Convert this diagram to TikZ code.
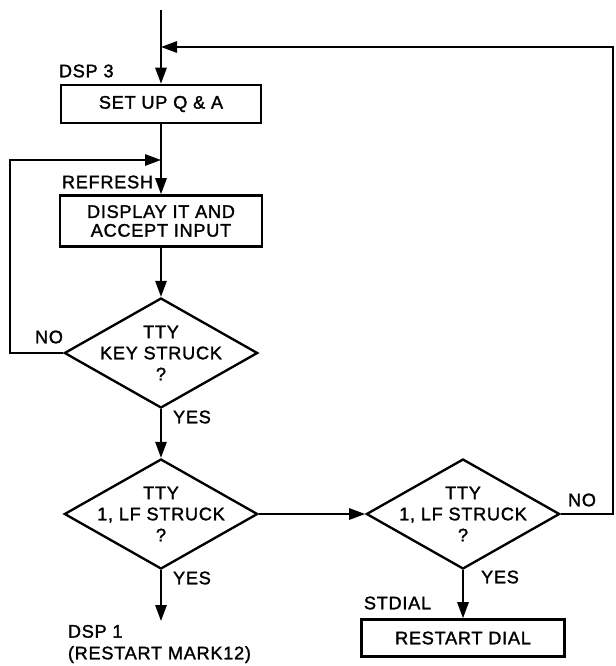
\documentclass[tikz,border=0pt]{standalone}
\usepackage{fontspec}
\setmainfont{Liberation Sans}[LetterSpace=4,FakeBold=1.5]
\usetikzlibrary{shapes.geometric,arrows.meta}
\begin{document}
\begin{tikzpicture}[x=0.03cm,y=-0.03cm,line width=1.6pt,
  every node/.style={font=\fontsize{15.5}{18}\selectfont,inner sep=0pt},
  box/.style={draw,rectangle,line width=2.2pt,minimum width=6cm,minimum height=1.14cm,align=center,font=\fontsize{15.5}{16}\selectfont},
  decision/.style={draw,diamond,line width=2pt,minimum width=5.8cm,minimum height=3.3cm},
  flow/.style={-{Triangle[length=4.8mm,width=3.4mm]}}]
  \useasboundingbox (0,0) rectangle (616,666);
  \coordinate (top) at (161,10);
  \coordinate (join1) at (161,47);
  \node[box] (setup) at (161,104) {SET UP Q \& A};
  \node[anchor=west] (dsp3) at (58,71) {DSP 3};
  \coordinate (join2) at (161,160);
  \node[anchor=west] (refresh) at (61,182) {REFRESH};
  \node[box,minimum width=6.06cm,minimum height=1.53cm] (display) at (161,221) {DISPLAY IT AND\\ACCEPT INPUT};
  \node[decision,label={[align=center]center:{TTY\\KEY STRUCK\\?}}] (key) at (161,353) {};
  \node (no1) at (49,337) {NO};
  \node (yes1) at (192,417) {YES};
  \node[decision,label={[align=center]center:{TTY\\1, LF STRUCK\\?}}] (lf1) at (161,514) {};
  \node (yes2) at (192,578) {YES};
  \coordinate (exit1) at (161,621);
  \node[anchor=west,align=left,font=\fontsize{15.5}{18.5}\selectfont] (dsp1) at (67,644) {DSP 1\\(RESTART MARK12)};
  \node[decision,label={[align=center]center:{TTY\\1, LF STRUCK\\?}}] (lf2) at (463,514) {};
  \node (no2) at (582,500) {NO};
  \node (yes3) at (500,577) {YES};
  \node[anchor=west] (stdial) at (363,603) {STDIAL};
  \node[box,minimum width=6.09cm,minimum height=1.11cm] (dial) at (463,638) {RESTART DIAL};
  \coordinate (corner1) at (613,514);
  \coordinate (corner2) at (613,47);
  \coordinate (corner3) at (10,353);
  \draw[flow] (top) -- (setup);
  \draw[flow] (lf2.east) -- (corner1) -- (corner2) -- (join1);
  \draw[flow] (setup) -- (display);
  \draw[flow] (key.west) -- (corner3) |- (join2);
  \draw[flow] (display) -- (key);
  \draw[flow] (key) -- (lf1);
  \draw[flow] (lf1) -- (exit1);
  \draw[flow] (lf1) -- (lf2);
  \draw[flow] (lf2) -- (dial);
\end{tikzpicture}
\end{document}
